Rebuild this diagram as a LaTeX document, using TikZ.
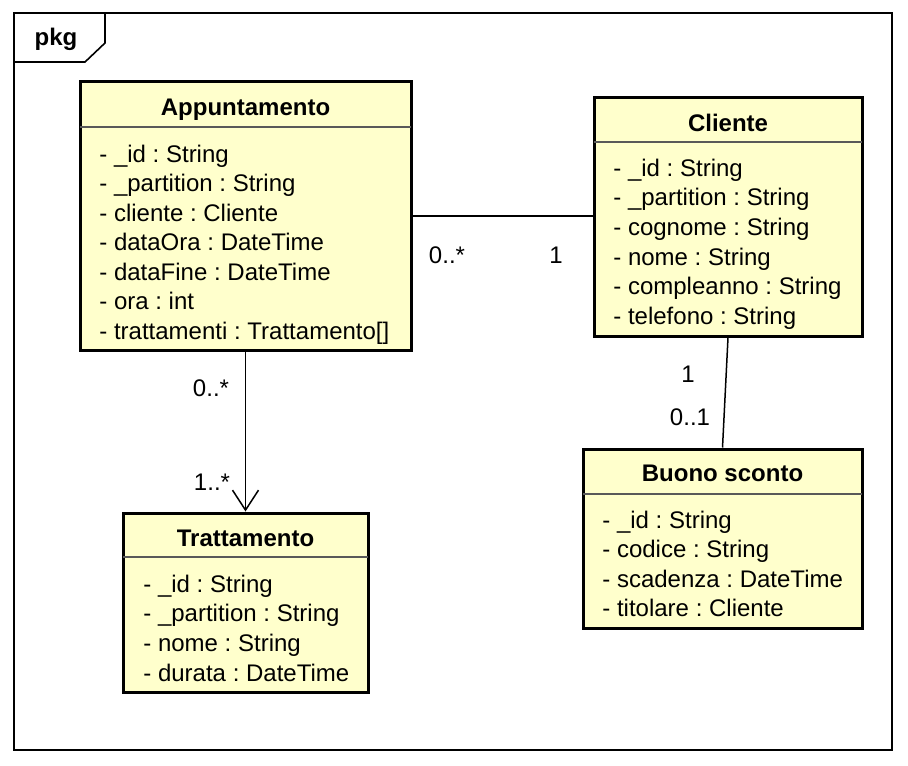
\documentclass[tikz,border=0pt]{standalone}
\usepackage{fontspec}
\setmainfont{Liberation Sans}
\usetikzlibrary{arrows.meta,fit}
\definecolor{classfill}{HTML}{FFFFCC}
\frenchspacing

\begin{document}
\begin{tikzpicture}[x=0.5pt,y=-0.5pt,
  classbox/.style={draw,line width=1.5pt,fill=classfill,inner sep=0pt},
  sepline/.style={draw=black!65,line width=0.8pt},
  ctitle/.style={font=\fontsize{12}{14}\selectfont\bfseries,anchor=base,inner sep=0pt},
  cattr/.style={font=\fontsize{12}{14}\selectfont,anchor=base west,inner sep=0pt},
  mult/.style={font=\fontsize{12}{14}\selectfont,anchor=base,inner sep=0pt},
  assoc/.style={line width=0.75pt}]
  \useasboundingbox (0,0) rectangle (908,765);

  % package frame with tab
  \draw[line width=1pt] (14,13) rectangle (892,750);
  \draw[line width=0.8pt] (105,13) -- (105,43) -- (85,62) -- (14,62);
  \node[ctitle] (pkg) at (56,46) {pkg};

  % Appuntamento
  \node[classbox,fit={(80,82) (411,350)}] (app) {};
  \draw[sepline] (80,127) -- (411,127);
  \node[ctitle] (app-t) at (app.center |- 0,115) {Appuntamento};
  \foreach \t [count=\i from 0] in {{- \_id : String},{- \_partition : String},
      {- cliente : Cliente},{- dataOra : DateTime},{- dataFine : DateTime},
      {- ora : int},{- trattamenti : Trattamento[]}}
    \node[cattr] (app-\i) at (99,162+29.5*\i) {\t};

  % Cliente
  \node[classbox,fit={(594,97) (862,336)}] (cli) {};
  \draw[sepline] (594,142) -- (862,142);
  \node[ctitle] (cli-t) at (cli.center |- 0,131) {Cliente};
  \foreach \t [count=\i from 0] in {{- \_id : String},{- \_partition : String},
      {- cognome : String},{- nome : String},{- compleanno : String},
      {- telefono : String}}
    \node[cattr] (cli-\i) at (613,176+29.7*\i) {\t};

  % Trattamento
  \node[classbox,fit={(123,513) (368,692)}] (trat) {};
  \draw[sepline] (123,557) -- (368,557);
  \node[ctitle] (trat-t) at (trat.center |- 0,546) {Trattamento};
  \foreach \t [count=\i from 0] in {{- \_id : String},{- \_partition : String},
      {- nome : String},{- durata : DateTime}}
    \node[cattr] (trat-\i) at (143,592+29.7*\i) {\t};

  % Buono sconto
  \node[classbox,fit={(583,449) (862,628)}] (buono) {};
  \draw[sepline] (583,494) -- (862,494);
  \node[ctitle] (buono-t) at (buono.center |- 0,481) {Buono sconto};
  \foreach \t [count=\i from 0] in {{- \_id : String},{- codice : String},
      {- scadenza : DateTime},{- titolare : Cliente}}
    \node[cattr] (buono-\i) at (602,528+29.5*\i) {\t};

  % associations
  \draw[assoc] (app.east) -- (app.east -| cli.west);
  \draw[assoc,-{Straight Barb[length=10pt,width=13pt]}] (app.south) -- (trat.north);
  \draw[assoc] (cli.south) -- (buono.north);

  % multiplicities
  \node[mult] (m-app-cli) at (447,263) {0..*};
  \node[mult] (m-cli-app) at (556,263) {1};
  \node[mult] (m-app-trat) at (211,396) {0..*};
  \node[mult] (m-trat-app) at (212,490) {1..*};
  \node[mult] (m-cli-buono) at (688,382) {1};
  \node[mult] (m-buono-cli) at (690,425) {0..1};
\end{tikzpicture}
\end{document}
